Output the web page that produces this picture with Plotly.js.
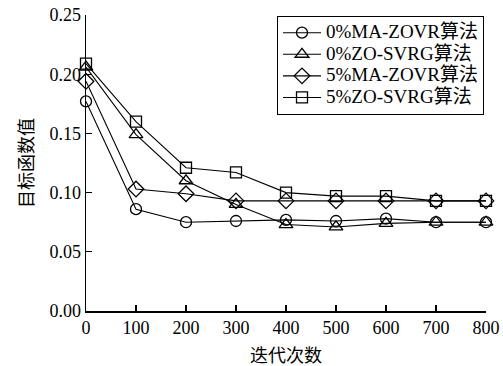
<!DOCTYPE html>
<html>
<head>
<meta charset="utf-8">
<script src="https://cdn.plot.ly/plotly-3.0.1.min.js"></script>
<style>
html,body{margin:0;padding:0;background:#fff;}
#chart{width:503px;height:366px;}
.legendtext{font-size:19px !important;}
</style>
</head>
<body>
<div id="chart"></div>
<script>
const iterations = [0, 100, 200, 300, 400, 500, 600, 700, 800];
const seriesNames = ["0%MA-ZOVR算法", "0%ZO-SVRG算法", "5%MA-ZOVR算法", "5%ZO-SVRG算法"];
const ma0 = [0.177, 0.086, 0.075, 0.076, 0.077, 0.076, 0.078, 0.075, 0.075];
const zo0 = [0.206, 0.149, 0.110, 0.090, 0.073, 0.071, 0.074, 0.075, 0.075];
const ma5 = [0.194, 0.103, 0.099, 0.093, 0.093, 0.093, 0.093, 0.093, 0.093];
const zo5 = [0.209, 0.160, 0.121, 0.117, 0.100, 0.097, 0.097, 0.093, 0.093];
const symbols = ["circle-open", "triangle-up-open", "diamond-open", "square-open"];
const sizes = [11, 12, 12, 11];
const values = [ma0, zo0, ma5, zo5];

const FONT = "'Liberation Serif', 'Times New Roman', 'Noto Sans CJK SC', serif";

const traces = values.map((v, i) => ({
  x: iterations, y: v, name: seriesNames[i],
  type: 'scatter', mode: 'lines+markers', cliponaxis: false,
  line: {color: '#000', width: 1.1},
  marker: {symbol: symbols[i], size: sizes[i], color: '#000', line: {color: '#000', width: 1.3}}
}));

const layout = {
  width: 503, height: 366,
  margin: {l: 86, r: 17, t: 15, b: 55},
  paper_bgcolor: '#fff', plot_bgcolor: '#fff',
  font: {family: FONT, size: 18, color: '#000'},
  showlegend: true,
  legend: {x: 0.4775, y: 0.997, xanchor: 'left', yanchor: 'top',
    bordercolor: '#000', borderwidth: 1, bgcolor: '#fff', itemwidth: 38,
    font: {family: FONT, size: 14.3, color: '#000'}, tracegroupgap: 0},
  xaxis: {range: [0, 800], tickvals: iterations, ticktext: iterations.map(String),
    showline: true, linecolor: '#000', linewidth: 1.5, mirror: false,
    ticks: 'inside', ticklen: 6, tickwidth: 1.3, tickcolor: '#000',
    showgrid: false, zeroline: false,
    title: {text: '迭代次数', font: {family: FONT, size: 18}, standoff: 13}},
  yaxis: {range: [0, 0.25], tickvals: [0, 0.05, 0.10, 0.15, 0.20, 0.25], tickformat: '.2f',
    showline: true, linecolor: '#000', linewidth: 1.5, mirror: false,
    ticks: 'inside', ticklen: 6, tickwidth: 1.3, tickcolor: '#000',
    showgrid: false, zeroline: false,
    title: {text: '目标函数值', font: {family: FONT, size: 18}, standoff: 11}}
};

Plotly.newPlot('chart', traces, layout, {displayModeBar: false, staticPlot: true});
</script>
</body>
</html>
